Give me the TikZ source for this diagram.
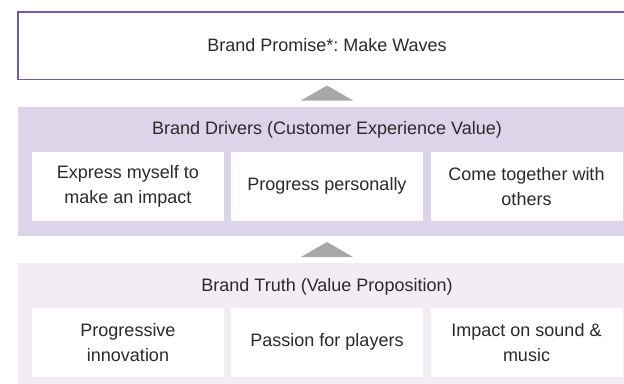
\documentclass[tikz,border=0pt]{standalone}
\usepackage{fontspec}
\setmainfont{Liberation Sans}
\frenchspacing
\definecolor{promiseline}{HTML}{7458AC}
\definecolor{driverfill}{HTML}{DCD5E9}
\definecolor{truthfill}{HTML}{F2ECF4}
\definecolor{arrowgray}{HTML}{A8A8A8}
\definecolor{txt}{HTML}{2A2A2A}
\tikzset{
  panel/.style={draw=none, rectangle, inner sep=0pt, anchor=north west},
  cell/.style={fill=white, draw=none, rectangle, inner sep=0pt, minimum width=192pt, minimum height=69pt, align=center, text=txt, font=\fontsize{18}{25}\selectfont},
  label/.style={inner sep=0pt, text=txt, font=\fontsize{18}{25}\selectfont},
  uparrow/.style={fill=arrowgray, draw=none}
}
\begin{document}
\begin{tikzpicture}[x=1pt,y=-1pt]
\useasboundingbox (0,0) rectangle (624,383);
\clip (0,0) rectangle (624,383);
% top promise box
\node[panel, draw=promiseline, line width=1.2pt, fill=white, minimum width=620pt, minimum height=67.7pt] (promise) at (17.3,11.3) {};
\node[label] (promisetxt) at (327,45.5) {Brand Promise*: Make Waves};
% drivers panel
\node[panel, fill=driverfill, minimum width=620pt, minimum height=129.3pt] (drivers) at (17.3,106.7) {};
\node[label] (driverstitle) at (327,130) {Brand Drivers (Customer Experience Value)};
\node[cell] (d1) at (128,186.2) {Express myself to\\make an impact};
\node[cell] (d2) at (327,186.2) {Progress personally};
\node[cell] (d3) at (526.5,186.2) {Come together with\\others};
% truth panel
\node[panel, fill=truthfill, minimum width=620pt, minimum height=130pt] (truth) at (17.3,262.7) {};
\node[label] (truthtitle) at (327,286.5) {Brand Truth (Value Proposition)};
\node[cell] (t1) at (128,342.3) {Progressive\\innovation};
\node[cell] (t2) at (327,342.3) {Passion for players};
\node[cell] (t3) at (526.5,342.3) {Impact on sound \&\\music};
% arrows
\fill[uparrow] (301,100.5) -- (327,85.5) -- (353,100.5) -- cycle;
\fill[uparrow] (301,257) -- (327,242) -- (353,257) -- cycle;
\end{tikzpicture}
\end{document}
